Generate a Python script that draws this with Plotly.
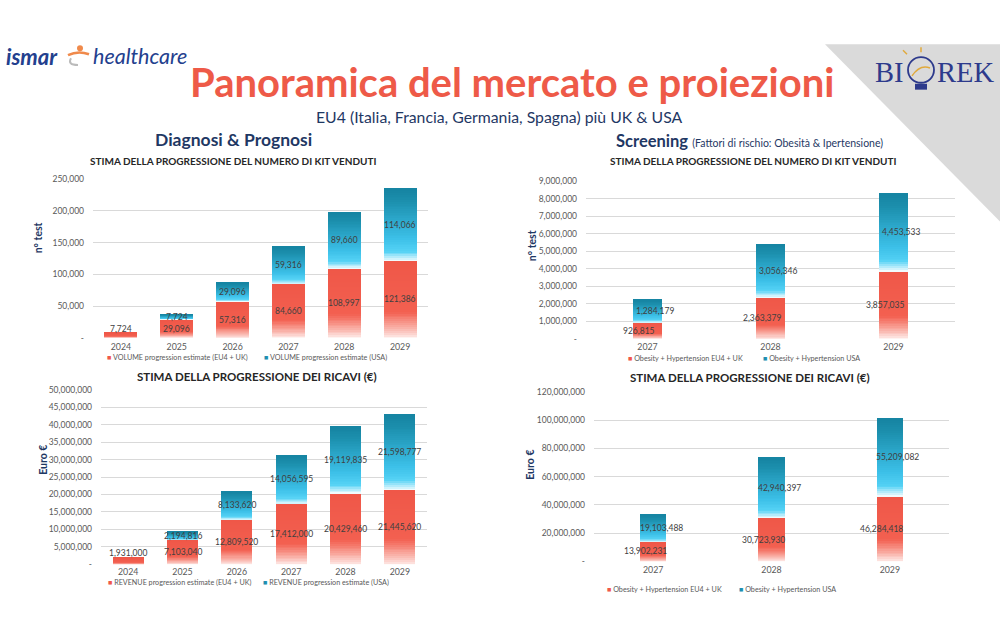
import plotly.graph_objects as go

# ---------------- DATA ----------------
YEARS_DIAG = ["2024", "2025", "2026", "2027", "2028", "2029"]
VOL_EU = [7724, 29096, 57316, 84660, 108997, 121386]
VOL_USA = [0, 7724, 29096, 59316, 89660, 114066]
REV_EU = [1931000, 7103040, 12809520, 17412000, 20429460, 21445620]
REV_USA = [0, 2194816, 8133620, 14056595, 19119835, 21598777]

YEARS_SCR = ["2027", "2028", "2029"]
SCR_VOL_EU = [926815, 2363379, 3857035]
SCR_VOL_USA = [1284179, 3056346, 4453533]
SCR_REV_EU = [13902231, 30723930, 46284418]
SCR_REV_USA = [19103488, 42940397, 55209082]

TICKS_VOL = [0, 50000, 100000, 150000, 200000, 250000]
TICKS_REV = [0, 5000000, 10000000, 15000000, 20000000, 25000000,
             30000000, 35000000, 40000000, 45000000, 50000000]
TICKS_SCR_VOL = [0, 1000000, 2000000, 3000000, 4000000, 5000000,
                 6000000, 7000000, 8000000, 9000000]
TICKS_SCR_REV = [0, 20000000, 40000000, 60000000, 80000000, 100000000, 120000000]

LEG_VOL = ["VOLUME progression estimate (EU4 + UK)", "VOLUME progression estimate (USA)"]
LEG_REV = ["REVENUE progression estimate (EU4 + UK)", "REVENUE progression estimate (USA)"]
LEG_SCR = ["Obesity + Hypertension EU4 + UK", "Obesity + Hypertension USA"]

# ---------------- STYLE ----------------
W, H = 1000, 644
FONT = "Lato"
NAVY = "#1F3864"
RED_T = "#EE5A48"
GRID = "#D9D9D9"
TICKC = "#595959"
LABC = "#404040"
RED_LEG = "#F0584A"
BLUE_LEG = "#1E8FB0"
N = 40


def px(x):
    return x / W


def py(y):
    return 1 - y / H


def mix(c1, c2, f):
    f = max(0.0, min(1.0, f))
    return tuple(c1[i] + (c2[i] - c1[i]) * f for i in range(3))


def rgb(c):
    return "rgb(%d,%d,%d)" % tuple(int(round(v)) for v in c)


def red_at(t):
    if t < 0.35:
        return mix((255, 250, 248), (243, 96, 80), (t / 0.35) ** 0.8)
    return mix((243, 96, 80), (239, 87, 72), (t - 0.35) / 0.65)


def blue_at(t):
    if t < 0.14:
        return mix((255, 255, 255), (85, 210, 245), t / 0.14)
    if t < 0.32:
        return mix((85, 210, 245), (60, 192, 232), (t - 0.14) / 0.18)
    if t < 0.85:
        return mix((60, 192, 232), (27, 142, 172), (t - 0.32) / 0.53)
    return mix((27, 142, 172), (22, 132, 162), (t - 0.85) / 0.15)


def fmt(v):
    return "-" if v == 0 else f"{v:,}"


panels = [
    dict(ax="", cats=YEARS_DIAG, eu=VOL_EU, usa=VOL_USA, xd=(93, 428), yd=(338, 177),
         rng=250000, ticks=TICKS_VOL, bw=0.59, sh=(0, 0), title="STIMA DELLA PROGRESSIONE DEL NUMERO DI KIT VENDUTI",
         tpos=(233, 158), tsize=10, ytitle="n° test", ypos=(38, 237), leg=LEG_VOL,
         legpos=(105, 262, 358), xstand=2),
    dict(ax="2", cats=YEARS_DIAG, eu=REV_EU, usa=REV_USA, xd=(101, 427), yd=(568, 391),
         rng=50000000, ticks=TICKS_REV, bw=0.57, sh=(0, 0), title="STIMA DELLA PROGRESSIONE DEI RICAVI (€)",
         tpos=(257, 377), tsize=11.5, ytitle="Euro €", ypos=(43, 462), leg=LEG_REV,
         legpos=(106, 261, 587), xstand=1),
    dict(ax="3", cats=YEARS_SCR, eu=SCR_VOL_EU, usa=SCR_VOL_USA, xd=(586, 955), yd=(339, 179),
         rng=9000000, ticks=TICKS_SCR_VOL, bw=0.23, sh=(-9, 7), title="STIMA DELLA PROGRESSIONE DEL NUMERO DI KIT VENDUTI",
         tpos=(753, 158), tsize=10, ytitle="n° test", ypos=(532, 245), leg=LEG_SCR,
         legpos=(626, 761, 359), xstand=1),
    dict(ax="4", cats=YEARS_SCR, eu=SCR_REV_EU, usa=SCR_REV_USA, xd=(594, 949), yd=(565, 393),
         rng=120000000, ticks=TICKS_SCR_REV, bw=0.22, sh=(-8, 8), title="STIMA DELLA PROGRESSIONE DEI RICAVI (€)",
         tpos=(750, 378), tsize=11.5, ytitle="Euro €", ypos=(530, 467), leg=LEG_SCR,
         legpos=(605, 737, 594), xstand=2),
]

fig = go.Figure()
annotations = []
layout_axes = {}

for p in panels:
    xa = "x" + p["ax"]
    ya = "y" + p["ax"]
    eu, usa, cats = p["eu"], p["usa"], p["cats"]
    pos = list(range(len(cats)))
    plot_h = p["yd"][0] - p["yd"][1]
    # gradient bars built as stacked slices of each data value
    for series, base0, colf, name in ((eu, [0] * len(eu), red_at, p["leg"][0]),
                                      (usa, eu, blue_at, p["leg"][1])):
        for i in range(N):
            t = (i + 0.5) / N
            ov = 0.6 if i > 0 else 0.0
            fig.add_trace(go.Bar(
                x=pos,
                y=[v / N * (1 + ov) for v in series],
                base=[b + v * i / N - v / N * ov for v, b in zip(series, base0)],
                marker=dict(color=rgb(colf(t)), line=dict(width=0)),
                name=name, width=p["bw"], xaxis=xa, yaxis=ya, showlegend=False, hoverinfo="skip"))
    # data labels
    for k, e, u in zip(pos, eu, usa):
        small = e / p["rng"] * plot_h < 12
        annotations.append(dict(x=k, y=e if small else e / 2, yshift=4 if small else 0,
                                xref=xa, yref=ya, text=f"{e:,}", showarrow=False,
                                xshift=p["sh"][0], font=dict(size=8.5, color=LABC, family=FONT)))
        if u:
            annotations.append(dict(x=k, y=e + u / 2, xref=xa, yref=ya, text=f"{u:,}", showarrow=False,
                                    xshift=p["sh"][1], font=dict(size=8.5, color=LABC, family=FONT)))
    key = p["ax"]
    layout_axes["xaxis" + key] = dict(domain=[px(p["xd"][0]), px(p["xd"][1])], anchor=ya,
                                      range=[-0.5, len(cats) - 0.5], tickvals=pos, ticktext=cats,
                                      showgrid=False, showline=False, zeroline=False, ticks="",
                                      ticklabelstandoff=p["xstand"],
                                      tickfont=dict(size=8.8, color=TICKC, family=FONT), fixedrange=True)
    layout_axes["yaxis" + key] = dict(domain=[py(p["yd"][0]), py(p["yd"][1])], anchor=xa,
                                      range=[0, p["rng"]], tickvals=p["ticks"],
                                      ticktext=[fmt(v) for v in p["ticks"]],
                                      gridcolor=GRID, gridwidth=1, zeroline=False, showline=False,
                                      ticklabelstandoff=8,
                                      tickfont=dict(size=8.5, color=TICKC, family=FONT), fixedrange=True)
    # titles
    annotations.append(dict(x=px(p["tpos"][0]), y=py(p["tpos"][1]), xref="paper", yref="paper",
                            text="<b>" + p["title"] + "</b>", showarrow=False,
                            font=dict(size=p["tsize"], color="#262626", family=FONT)))
    annotations.append(dict(x=px(p["ypos"][0]), y=py(p["ypos"][1]), xref="paper", yref="paper",
                            text="<b>" + p["ytitle"] + "</b>", textangle=-90, showarrow=False,
                            font=dict(size=10.5, color=NAVY, family=FONT)))
    # legend entries
    for lx, lab, col in ((p["legpos"][0], p["leg"][0], RED_LEG), (p["legpos"][1], p["leg"][1], BLUE_LEG)):
        annotations.append(dict(x=px(lx), y=py(p["legpos"][2]), xref="paper", yref="paper",
                                xanchor="left", showarrow=False,
                                text=f"<span style='color:{col}'>■</span> {lab}",
                                font=dict(size=7.2, color=TICKC, family=FONT)))

# headers
annotations += [
    dict(x=px(512), y=py(78), xref="paper", yref="paper", showarrow=False,
         text="Panoramica del mercato e proiezioni",
         font=dict(size=40, color=RED_T, family=FONT, weight=700)),
    dict(x=px(499), y=py(113), xref="paper", yref="paper", showarrow=False,
         text="EU4 (Italia, Francia, Germania, Spagna) più UK & USA",
         font=dict(size=15.8, color=NAVY, family=FONT)),
    dict(x=px(233), y=py(137), xref="paper", yref="paper", showarrow=False,
         text="<b>Diagnosi & Prognosi</b>", font=dict(size=17.5, color=NAVY, family=FONT)),
    dict(x=px(614), y=py(138), xref="paper", yref="paper", showarrow=False, xanchor="left",
         text="<b>Screening</b> <span style='font-size:10.5px'>(Fattori di rischio: Obesità &amp; Ipertensione)</span>",
         font=dict(size=16.5, color=NAVY, family=FONT)),
    dict(x=px(4), y=py(52), xref="paper", yref="paper", showarrow=False, xanchor="left",
         text="<b><i>ismar</i></b>", font=dict(size=22, color="#23408E", family=FONT)),
    dict(x=px(91), y=py(52), xref="paper", yref="paper", showarrow=False, xanchor="left",
         text="<i>healthcare</i>", font=dict(size=21.5, color="#23408E", family=FONT)),
    dict(x=px(906), y=py(69), xref="paper", yref="paper", showarrow=False, xanchor="right",
         text="BI", font=dict(size=28.5, color="#2D3A8C", family="Liberation Serif")),
    dict(x=px(935), y=py(69), xref="paper", yref="paper", showarrow=False, xanchor="left",
         text="REK", font=dict(size=28.5, color="#2D3A8C", family="Liberation Serif")),
]
for a in annotations:
    a.setdefault("xanchor", "center")
    a.setdefault("yanchor", "middle")


def ppath(points, close=True):
    s = "M " + " L ".join(f"{px(x):.4f},{py(y):.4f}" for x, y in points)
    return s + (" Z" if close else "")


def qpath(p0, c, p1):
    return (f"M {px(p0[0]):.4f},{py(p0[1]):.4f} Q {px(c[0]):.4f},{py(c[1]):.4f} "
            f"{px(p1[0]):.4f},{py(p1[1]):.4f}")


shapes = [
    dict(type="path", xref="paper", yref="paper", layer="below",
         path=ppath([(825, 40), (1000, 40), (1000, 220)]),
         fillcolor="#DADADA", line=dict(width=0)),
    # ismar icon
    dict(type="circle", xref="paper", yref="paper", x0=px(77), x1=px(83), y0=py(47), y1=py(41),
         fillcolor="#F08A4B", line=dict(width=0)),
    dict(type="path", xref="paper", yref="paper", path=qpath((68, 51), (78, 46), (89, 50)),
         line=dict(color="#F08A4B", width=2.5)),
    dict(type="path", xref="paper", yref="paper", path=qpath((71, 54), (67, 61), (78, 61)),
         line=dict(color="#BBBBBB", width=2)),
    # BIOREK bulb
    dict(type="circle", xref="paper", yref="paper", x0=px(908), x1=px(934), y0=py(79), y1=py(53),
         fillcolor="rgba(0,0,0,0)", line=dict(color="#2D3A8C", width=1.8)),
    dict(type="rect", xref="paper", yref="paper", x0=px(915), x1=px(927), y0=py(86), y1=py(80),
         fillcolor="#2D3A8C", line=dict(width=0)),
    dict(type="path", xref="paper", yref="paper", path=qpath((912, 72), (920, 60), (930, 64)),
         line=dict(color="#E0A93B", width=1.5)),
    dict(type="path", xref="paper", yref="paper", path=ppath([(907, 50), (903, 46)], close=False),
         line=dict(color="#E0A93B", width=1.5)),
    dict(type="path", xref="paper", yref="paper", path=ppath([(921, 48), (921, 43)], close=False),
         line=dict(color="#E0A93B", width=1.5)),
]

fig.update_layout(
    width=W, height=H, margin=dict(l=0, r=0, t=0, b=0),
    paper_bgcolor="white", plot_bgcolor="white",
    barmode="overlay", bargap=0, showlegend=False,
    annotations=annotations, shapes=shapes,
    font=dict(family=FONT),
    **layout_axes,
)

fig.write_html("out.html", config={"displayModeBar": False},
               post_script="document.body.style.margin='0';")
